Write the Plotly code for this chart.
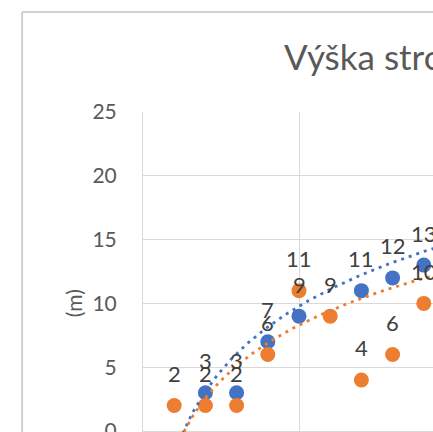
import numpy as np
import plotly.graph_objs as go

# visible part of the chart (x = 1..9)
x_blue = [2, 3, 4, 5, 7, 8, 9]
y_blue = [3, 3, 7, 9, 11, 12, 13]
x_orange = [1, 2, 3, 4, 5, 6, 7, 8, 9]
y_orange = [2, 2, 2, 6, 11, 9, 4, 6, 10]

# logarithmic trendlines y = a*ln(x) + b
trend_blue = (7.29, -1.95)
trend_orange = (6.25, -1.76)

y_ticks = [0, 5, 10, 15, 20, 25]

BLUE = "#4472C4"
ORANGE = "#ED7D31"
GRID = "#D9D9D9"
FONT = "Lato"

fig = go.Figure()

for xs, ys, color in [(x_blue, y_blue, BLUE), (x_orange, y_orange, ORANGE)]:
    fig.add_trace(
        go.Scatter(
            x=xs,
            y=ys,
            mode="markers",
            marker={"color": color, "size": 15},
            showlegend=False,
        )
    )

x_trend = np.linspace(1, 12, 200)
for (a, b), color in [(trend_blue, BLUE), (trend_orange, ORANGE)]:
    fig.add_trace(
        go.Scatter(
            x=x_trend,
            y=a * np.log(x_trend) + b,
            mode="lines",
            line={"color": color, "width": 2.8, "dash": "3px,5px"},
            showlegend=False,
        )
    )

annotations = []
for xs, ys in [(x_blue, y_blue), (x_orange, y_orange)]:
    for xv, yv in zip(xs, ys):
        annotations.append(
            dict(
                x=xv,
                y=yv,
                text=str(yv),
                showarrow=False,
                yshift=32,
                font={"family": FONT, "size": 22, "color": "#404040"},
            )
        )

annotations.append(
    dict(
        x=0.479,
        y=1.175,
        xref="paper",
        yref="paper",
        xanchor="left",
        yanchor="middle",
        text="Výška stromů",
        showarrow=False,
        font={"family": FONT, "size": 35, "color": "#595959"},
    )
)
annotations.append(
    dict(
        x=-0.241,
        y=0.403,
        xref="paper",
        yref="paper",
        xanchor="center",
        yanchor="middle",
        text="(m)",
        textangle=-90,
        showarrow=False,
        font={"family": FONT, "size": 21, "color": "#595959"},
    )
)

# outer chart border (only its left and top edges are inside the crop)
border = dict(type="line", xref="paper", yref="paper", line={"color": "#D0D0D0", "width": 2})
shapes = [
    dict(border, x0=-0.417, x1=-0.417, y0=-0.05, y1=1.3125),
    dict(border, x0=-0.417, x1=1.05, y0=1.3125, y1=1.3125),
]

fig.update_layout(
    width=433,
    height=432,
    margin={"l": 143, "r": 0, "t": 112, "b": 0},
    paper_bgcolor="white",
    plot_bgcolor="white",
    annotations=annotations,
    shapes=shapes,
    xaxis=dict(
        range=[0, 9.295],
        tickvals=[0, 5, 10],
        showticklabels=False,
        showgrid=True,
        gridcolor=GRID,
        gridwidth=1,
        zeroline=False,
        showline=False,
        automargin=False,
    ),
    yaxis=dict(
        range=[-0.078, 25],
        tickvals=y_ticks,
        showgrid=True,
        gridcolor=GRID,
        gridwidth=1,
        zeroline=True,
        zerolinecolor=GRID,
        zerolinewidth=1,
        showline=True,
        linecolor=GRID,
        ticks="outside",
        ticklen=21,
        tickcolor="rgba(0,0,0,0)",
        tickfont={"family": FONT, "size": 21, "color": "#595959"},
        ticklabeloverflow="allow",
        automargin=False,
    ),
)

fig.write_html(
    "out.html",
    config={"displayModeBar": False},
    post_script="document.body.style.margin='0';document.body.style.overflow='hidden';",
)
